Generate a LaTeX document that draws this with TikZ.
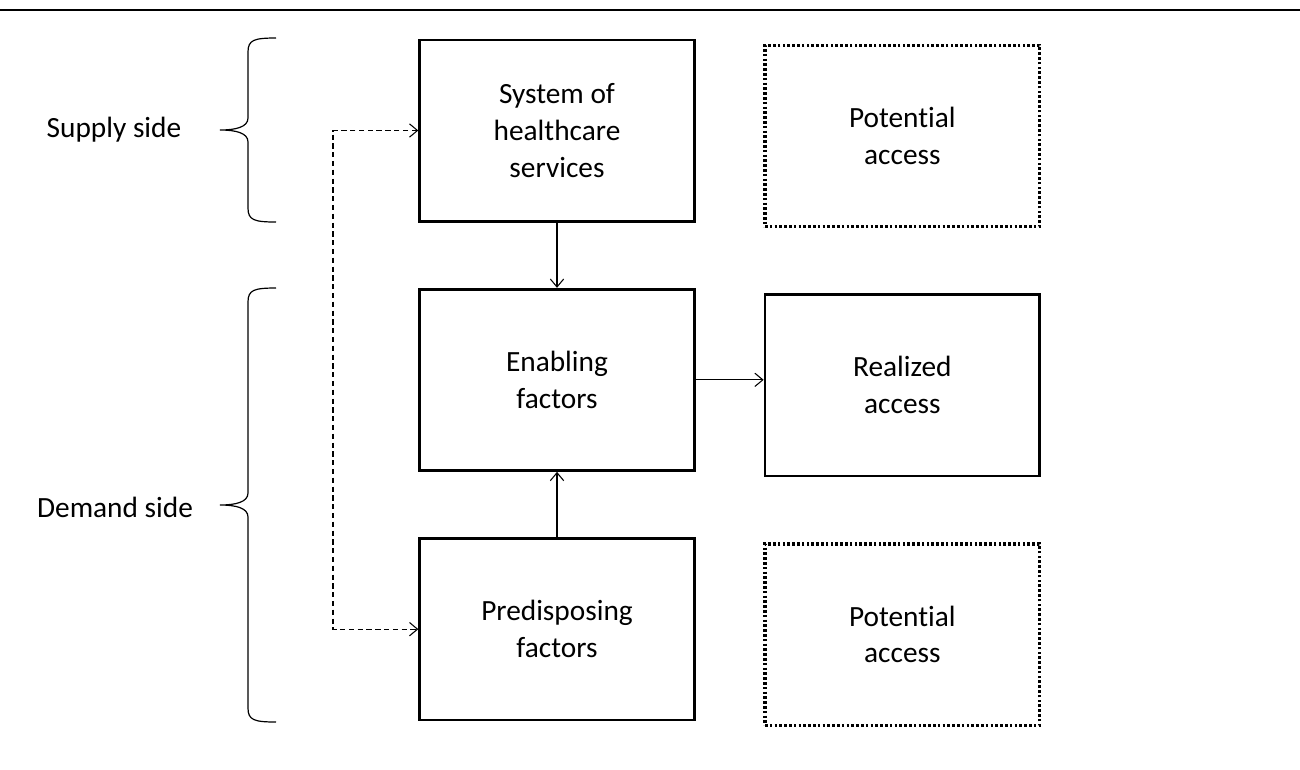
\documentclass[tikz,border=0pt]{standalone}
\usepackage{fontspec}
\setmainfont{Carlito}[Ligatures=NoCommon]
\usetikzlibrary{positioning,arrows.meta}
\tikzset{
  box/.style={draw,line width=2pt,minimum width=206pt,minimum height=136pt,align=center,inner sep=0pt},
  dotbox/.style={box,line width=2.5pt,dash pattern=on 2pt off 1.6pt},
  con/.style={->,line width=0.8pt},
  dashcon/.style={<->,line width=0.8pt,dash pattern=on 4pt off 2.6pt},
  sidebrace/.style={line width=0.9pt},
}
\begin{document}
\begin{tikzpicture}[x=0.75pt,y=-0.75pt,node distance=187pt,
  >={Straight Barb[length=6pt,width=10pt]},font=\fontsize{22}{27.5}\selectfont]
\useasboundingbox (0,0) rectangle (1300,769);
\draw[line width=1.6pt](0,10)--(1300,10);
\node[box](sys) at (557,130.5){System of\\healthcare\\services};
\node[box,below of = sys](ena){Enabling\\factors};
\node[box,below of = ena](pred){Predisposing\\factors};
\node[dotbox,right of = sys,xshift=72pt,yshift=-4pt](pot1){Potential\\access};
\node[box,right of = ena,xshift=72pt,yshift=-4pt](real){Realized\\access};
\node[dotbox,right of = pred,xshift=72pt,yshift=-4pt](pot2){Potential\\access};
\node(sup) at (114,130){Supply side};
\node(dem) at (115,507){Demand side};
% braces
\foreach \a/\b in {38/222,288/722}{
  \pgfmathsetmacro\m{(\a+\b)/2}
  \draw[sidebrace](276,\a) .. controls (254,\a) and (248,\a+2) .. (248,\a+14)
    -- (248,\m-12) .. controls (248,\m-3) and (236,\m) .. (220,\m)
    .. controls (236,\m) and (248,\m+3) .. (248,\m+12)
    -- (248,\b-14) .. controls (248,\b-2) and (254,\b) .. (276,\b);
}
\draw[con](sys.south)--(ena.north);
\draw[con](pred.north)--(ena.south);
\draw[con](ena.east)--(ena.east -| real.west);
\draw[dashcon](sys.west)-|(333,380)|-(pred.west);
\end{tikzpicture}
\end{document}
